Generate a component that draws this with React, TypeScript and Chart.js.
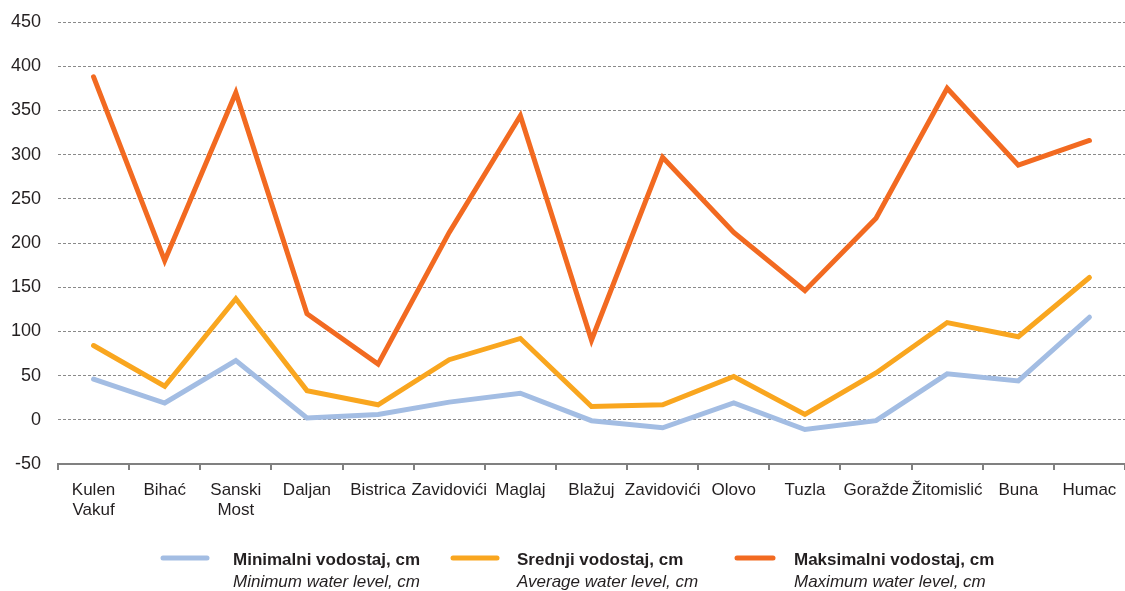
import React, { useEffect, useRef } from "react";
import { Chart, registerables } from "chart.js";

Chart.register(...registerables);

const categories: (string | string[])[] = [
  ["Kulen", "Vakuf"], "Bihać", ["Sanski", "Most"], "Daljan", "Bistrica", "Zavidovići", "Maglaj",
  "Blažuj", "Zavidovići", "Olovo", "Tuzla", "Goražde", "Žitomislić", "Buna", "Humac",
];
const minLevel = [46, 19, 67, 2, 6, 20, 30, -1, -9, 19, -11, -1, 52, 44, 116];
const avgLevel = [84, 38, 137, 33, 17, 68, 92, 15, 17, 49, 6, 53, 110, 94, 161];
const maxLevel = [388, 180, 370, 120, 63, 212, 344, 90, 297, 212, 146, 228, 375, 288, 316];
const legendBold = ["Minimalni vodostaj, cm", "Srednji vodostaj, cm", "Maksimalni vodostaj, cm"];
const legendItalic = ["Minimum water level, cm", "Average water level, cm", "Maximum water level, cm"];
const colors = ["#A3BDE3", "#F9A61F", "#F26A21"];

const FONT = "'Liberation Sans', Arial, sans-serif";
const TEXT = "#231F20";

const legendPlugin = {
  id: "customLegend",
  afterDraw(chart: any) {
    const ctx = chart.ctx;
    const swX = [161, 451, 735];
    const swW = [48, 48, 40];
    const txX = [233, 517, 794];
    ctx.save();
    for (let i = 0; i < 3; i++) {
      ctx.strokeStyle = colors[i];
      ctx.lineWidth = 5;
      ctx.lineCap = "round";
      ctx.beginPath();
      ctx.moveTo(swX[i] + 2, 558);
      ctx.lineTo(swX[i] + swW[i] - 2, 558);
      ctx.stroke();
      ctx.fillStyle = TEXT;
      ctx.textAlign = "left";
      ctx.textBaseline = "alphabetic";
      ctx.font = `bold 17px ${FONT}`;
      ctx.fillText(legendBold[i], txX[i], 565);
      ctx.font = `italic 17px ${FONT}`;
      ctx.fillText(legendItalic[i], txX[i], 587);
    }
    ctx.restore();
  },
};

export default function App() {
  const ref = useRef<HTMLCanvasElement>(null);
  useEffect(() => {
    if (!ref.current) return;
    const ds = (label: string, data: number[], color: string) => ({
      label,
      data,
      borderColor: color,
      backgroundColor: color,
      borderWidth: 5,
      pointRadius: 0,
      tension: 0,
      borderCapStyle: "round" as const,
      borderJoinStyle: "miter" as const,
    });
    const chart = new Chart(ref.current, {
      type: "line",
      data: {
        labels: categories,
        datasets: [
          ds(legendBold[0], minLevel, colors[0]),
          ds(legendBold[1], avgLevel, colors[1]),
          ds(legendBold[2], maxLevel, colors[2]),
        ],
      },
      options: {
        animation: false,
        responsive: false,
        layout: { padding: { top: 22, right: 0, left: 0, bottom: 0 } },
        plugins: { legend: { display: false }, tooltip: { enabled: false } },
        scales: {
          x: {
            offset: true,
            grid: {
              offset: true,
              drawOnChartArea: false,
              drawTicks: true,
              tickLength: 6,
              color: "#808080",
              lineWidth: 2,
            },
            border: { display: true, color: "#808080", width: 2 },
            ticks: {
              color: TEXT,
              font: { family: FONT, size: 17 },
              padding: 10,
              maxRotation: 0,
              autoSkip: false,
            },
            afterFit(scale: any) {
              scale.height = 127;
              scale.paddingLeft = 0;
              scale.paddingRight = 0;
            },
          },
          y: {
            min: -50,
            max: 450,
            grid: {
              color: "#8A8A8A",
              lineWidth: 1,
              drawTicks: false,
            },
            border: { display: false, dash: [3, 2] },
            ticks: {
              stepSize: 50,
              color: TEXT,
              font: { family: FONT, size: 18 },
              padding: 17,
            },
            afterFit(scale: any) {
              scale.width = 58;
              scale.paddingTop = 0;
              scale.paddingBottom = 0;
            },
          },
        },
      },
      plugins: [legendPlugin],
    });
    return () => chart.destroy();
  }, []);
  return (
    <div style={{ position: "absolute", left: 0, top: 0, width: 1125, height: 591, overflow: "hidden", background: "#fff" }}>
      <canvas ref={ref} width={1125} height={591} style={{ display: "block" }} />
    </div>
  );
}
